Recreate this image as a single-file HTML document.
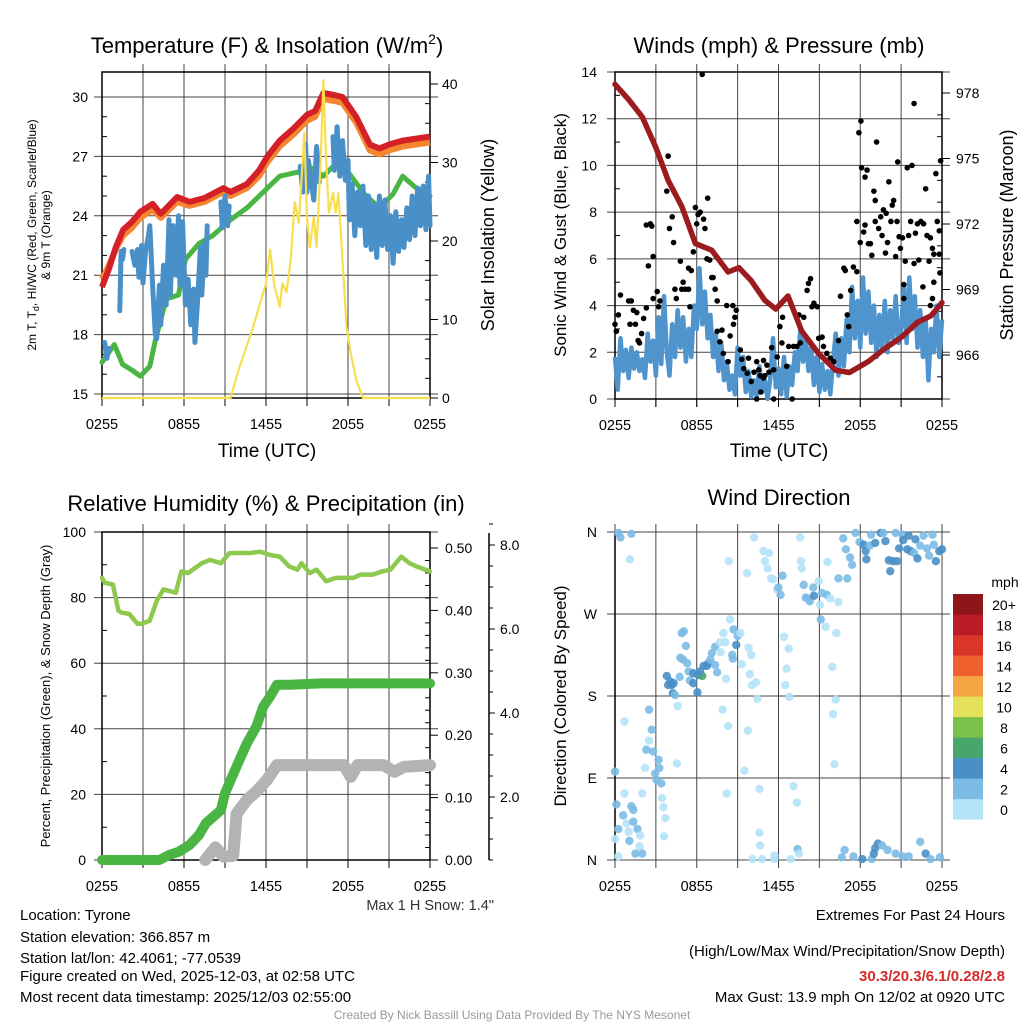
<!DOCTYPE html>
<html><head><meta charset="utf-8"><style>
html,body{margin:0;padding:0;background:#fff;}
svg{display:block;font-family:"Liberation Sans",sans-serif;}
</style></head><body>
<svg id="chart" width="1024" height="1024" viewBox="0 0 1024 1024" xmlns="http://www.w3.org/2000/svg">
<rect width="1024" height="1024" fill="#fff"/>
<g id="p1"></g>
<g id="p2"></g>
<g id="p3"></g>
<g id="p4"></g>
<g id="txt" font-size="15" fill="#000">
<text x="267" y="53" font-size="22" text-anchor="middle">Temperature (F) &amp; Insolation (W/m<tspan dy="-9" font-size="14">2</tspan><tspan dy="9">)</tspan></text>
<text x="779" y="53" font-size="22" text-anchor="middle">Winds (mph) &amp; Pressure (mb)</text>
<text x="266" y="511" font-size="22" text-anchor="middle">Relative Humidity (%) &amp; Precipitation (in)</text>
<text x="779" y="505" font-size="22" text-anchor="middle">Wind Direction</text>
<text x="267" y="457" font-size="19" text-anchor="middle">Time (UTC)</text>
<text x="779" y="457" font-size="19" text-anchor="middle">Time (UTC)</text>
<text transform="translate(44,235) rotate(-90)" font-size="12" text-anchor="middle"><tspan x="0" dy="-8">2m T, T<tspan font-size="9" dy="3">d</tspan><tspan dy="-3">, HI/WC (Red, Green, Scarlet/Blue)</tspan></tspan><tspan x="0" dy="14">&amp; 9m T (Orange)</tspan></text>
<text transform="translate(494,235) rotate(-90)" font-size="18" text-anchor="middle">Solar Insolation (Yellow)</text>
<text transform="translate(566,235) rotate(-90)" font-size="17" text-anchor="middle">Sonic Wind &amp; Gust (Blue, Black)</text>
<text transform="translate(1013,235) rotate(-90)" font-size="18" text-anchor="middle">Station Pressure (Maroon)</text>
<text transform="translate(50,696) rotate(-90)" font-size="13" text-anchor="middle">Percent, Precipitation (Green), &amp; Snow Depth (Gray)</text>
<text transform="translate(566,696) rotate(-90)" font-size="17" text-anchor="middle">Direction (Colored By Speed)</text>
<text x="494" y="910" font-size="14.5" fill="#333" text-anchor="end">Max 1 H Snow: 1.4"</text>
<g>
<text x="20" y="920">Location: Tyrone</text>
<text x="20" y="942">Station elevation: 366.857 m</text>
<text x="20" y="963">Station lat/lon: 42.4061; -77.0539</text>
<text x="20" y="981">Figure created on Wed, 2025-12-03, at 02:58 UTC</text>
<text x="20" y="1002">Most recent data timestamp: 2025/12/03 02:55:00</text>
</g>
<g text-anchor="end">
<text x="1005" y="920">Extremes For Past 24 Hours</text>
<text x="1005" y="956">(High/Low/Max Wind/Precipitation/Snow Depth)</text>
<text x="1005" y="981" fill="#d42a2a" font-weight="bold">30.3/20.3/6.1/0.28/2.8</text>
<text x="1005" y="1002">Max Gust: 13.9 mph On 12/02 at 0920 UTC</text>
</g>
<text x="512" y="1019" font-size="12" fill="#999" text-anchor="middle">Created By Nick Bassill Using Data Provided By The NYS Mesonet</text>
</g>
</svg>
<script>
// ---------- data ----------
const timeTicks = ["0255","0855","1455","2055","0255"];
// Temperature panel
const redT = [0,0.5,1,1.55,2.2,2.8,3.7,4.3,5.5,6.4,7.5,8.9,9.4,10.6,11.5,12.1,13,14,15,15.6,16.2,17,17.6,18.6,19.6,20.3,21,22,23,24];
const redV = [20.4,21.3,22.4,23.3,23.7,24.2,24.6,24.1,24.95,24.7,24.9,25.4,25.2,25.6,26.3,27,27.8,28.4,29.1,29.3,30.2,30.1,30,29,27.6,27.4,27.6,27.8,27.9,28.0];
const orangeV = [20.8,21.5,22.3,23.0,23.4,23.9,24.3,23.9,24.7,24.5,24.7,25.2,25.0,25.4,26.0,26.7,27.5,28.1,28.8,29.0,29.9,29.8,29.7,28.7,27.3,27.1,27.3,27.5,27.6,27.7];
const greenT = [0,0.9,1.5,2.2,2.8,3.5,3.9,4.7,5.6,6.1,7.1,8.1,9.4,10.6,12.1,13,14.3,15.4,16.2,17.2,17.9,19.2,20.3,21.3,22,23,24];
const greenV = [16.6,17.5,16.5,16.2,15.9,16.4,17.7,19.8,20,21.8,22.6,23,23.8,24.4,25.4,26,26.2,26.4,26,26.7,26.3,25.1,24.4,25.1,26,25.4,25];
const blueT = [0.2,0.35,0.5,0.6,1.3,1.4,1.5,1.6,1.7,2.2,2.4,2.6,2.7,2.9,3.0,3.2,3.4,3.5,3.7,3.9,4.0,4.2,4.3,4.5,4.7,4.9,5.0,5.2,5.4,5.6,5.7,5.9,6.1,6.3,6.5,6.7,6.8,7.0,7.2,7.3,7.5,7.6,7.7,7.8,8.7,8.8,9.0,9.2,9.3,9.4,14.5,14.7,14.9,15.0,15.1,15.3,15.5,15.7,15.9,16.0,16.9,17.0,17.2,17.4,17.6,17.8,18.0,18.1,18.3,18.5,18.7,18.9,19.1,19.3,19.5,19.7,19.9,20.1,20.3,20.5,20.7,20.9,21.1,21.3,21.5,21.7,21.9,22.1,22.3,22.5,22.7,22.9,23.1,23.3,23.5,23.7,23.9,24];
const blueV = [17.6,16.8,17.3,null,19.2,22.2,21.8,22.3,null,22.2,21.5,22.3,20.9,22.5,20.6,22.3,23.0,23.5,20.5,18.0,17.8,20.5,18.5,21.5,19.5,23.8,20.0,23.5,21.0,24.0,20.5,23.7,19.5,20.8,18.5,20.3,17.6,19.8,22.4,20.0,22.6,21.0,23.5,null,24.7,23.4,25.0,23.5,24.5,null,26.5,25.2,27.6,25.2,26.8,25.8,24.8,27.5,25.7,null,28.0,26.3,28.5,26.0,27.8,25.8,26.8,23.8,25.6,23.0,25.2,23.5,25.5,22.5,25.0,22.3,24.6,21.9,25.0,22.5,24.8,22.3,24.0,21.6,24.2,22.2,23.8,22.4,24.4,22.8,25.0,23.0,25.4,23.5,25.5,23.3,26.0,23.5];
const solarT = [0,9.4,10,11,12,12.3,12.6,13,13.2,13.5,13.8,14.1,14.4,14.6,14.8,15.0,15.2,15.5,15.7,16.0,16.2,16.4,16.6,16.9,17.1,17.3,17.6,17.9,18.2,18.6,19.1,24];
const solarV = [0,0,3.6,8.7,14.6,18.9,14.4,11.6,14.6,13.5,17.5,25,22.3,27.8,33.8,23,19.2,23,19.2,30.3,40.5,30.3,23.6,26.1,23.6,26.1,17.5,9.0,5.7,2.3,0,0];
const tempTicks = [15,18,21,24,27,30];
const solarTicks = [0,10,20,30,40];
// Winds panel
const pressT = [0,1,2,3,3.9,4.9,5.9,7.1,8.3,9.1,10,11,11.8,12.7,13.7,14.9,16.2,17.2,18.6,19.8,21,22.2,23.2,24];
const pressV = [978.4,977.7,976.9,975.5,974,972.8,971.1,970.8,969.8,970,969.4,968.5,968.1,968.7,967.1,966.1,965.3,965.2,965.7,966.3,966.8,967.5,967.8,968.4];
const sonicV = [1.8,0.4,2.6,1.2,2.1,0.9,2.2,1.3,2.0,1.2,1.7,0.9,2.8,1.6,2.5,1.0,3.5,1.5,4.4,2.0,1.0,3.2,1.8,3.8,2.2,3.5,1.6,3.0,1.8,4.0,3.0,5.6,3.2,4.6,2.6,3.6,1.8,2.8,1.2,2.4,0.8,1.6,0.4,1.0,0.2,2.2,1.0,1.8,0.3,1.2,0.1,0.8,0.1,1.4,0.3,0.8,0.0,0.9,2.6,0.5,1.3,0.2,1.8,0.1,1.4,0.6,2.0,1.2,3.0,1.6,2.6,1.2,2.2,0.6,1.8,0.3,1.5,0.4,1.2,0.2,1.6,2.8,1.0,2.6,1.4,3.4,2.0,4.8,2.6,4.2,2.2,5.2,2.8,4.6,2.4,4.0,1.8,3.6,2.2,4.2,2.0,3.8,2.6,4.4,2.4,3.0,4.8,2.4,5.2,3.0,4.4,2.2,3.8,1.8,3.4,0.8,3.0,2.0,4.0,1.8,3.4];
const gustT = [0,0.1,0.25,0.4,1.0,1.2,1.1,1.35,1.5,1.6,1.7,1.95,2.1,1.8,2.3,2.3,2.6,2.7,2.45,2.8,2.8,3.1,3.2,3.3,3.8,3.9,4.0,4.2,4.3,4.4,4.5,4.8,4.9,5.0,5.15,5.4,5.5,5.4,5.6,5.75,5.9,6.0,6.1,6.25,6.4,6.5,6.6,6.75,6.8,6.95,7.1,7.2,7.35,7.5,7.5,7.7,7.85,7.95,8.2,8.3,8.45,8.65,8.7,8.8,8.9,9.2,9.3,9.45,9.7,9.8,10.0,10.2,10.4,10.55,10.65,10.9,11.0,11.15,11.3,11.5,11.65,11.9,12.1,12.3,12.25,12.6,12.75,13.1,13.35,13.6,13.5,13.85,14.1,14.2,14.35,14.45,14.6,14.85,14.95,15.2,15.3,15.55,15.8,16.05,16.4,16.55,16.8,16.9,17.05,17.15,17.3,17.5,17.75,17.75,17.9,18.05,18.0,18.1,18.25,18.35,18.5,18.35,18.6,18.75,18.85,19.0,19.1,19.1,19.2,19.35,19.5,19.6,19.7,19.85,19.9,20.0,20.1,20.25,20.35,20.45,20.6,20.7,20.75,20.85,20.95,21.1,21.2,21.2,21.3,21.45,21.55,21.7,21.8,21.95,22.05,21.95,22.2,22.3,22.45,22.6,22.65,22.8,22.9,23.05,23.15,23.3,23.4,23.55,23.4,23.65,23.8,23.8,23.85,23.9,23.15,23.3,10.4,11.65,13.0,10.7,10.9];
const gustV = [3.2,2.9,3.6,4.45,4.2,4.2,3.2,3.8,3.2,3.7,2.5,2.8,3.45,2.4,3.9,7.45,7.5,7.4,5.7,6.1,4.3,4.6,3.95,4.2,8.9,10.4,7.3,7.8,6.7,4.7,4.3,5.9,4.7,5.0,4.7,4.7,3.95,5.6,5.5,6.3,8.2,7.5,7.9,8.0,13.9,7.7,7.3,6.0,8.6,5.95,5.2,5.2,4.7,4.2,2.9,2.45,2.95,1.95,4.0,1.6,2.7,4.0,3.2,3.5,3.8,2.1,1.7,1.3,1.1,1.75,0.75,1.15,1.6,1.25,1.0,1.65,1.0,1.45,1.15,2.2,1.25,1.8,3.1,3.5,2.4,1.4,2.25,2.25,2.25,2.4,3.6,3.5,4.65,4.95,5.15,3.95,4.1,3.95,2.6,2.65,2.25,1.95,1.75,1.6,2.5,4.4,5.6,5.5,3.6,3.1,4.65,5.65,5.45,7.6,11.4,11.9,6.7,9.9,7.15,9.5,9.8,7.45,6.65,6.65,6.15,8.9,7.6,8.5,11.0,7.3,7.8,7.0,8.1,6.25,7.95,6.7,9.3,7.6,8.3,8.5,6.1,7.6,10.15,6.95,6.45,6.9,4.9,4.3,5.9,9.9,7.0,7.6,10.0,12.65,7.1,5.8,7.5,5.95,7.6,4.8,7.5,9.0,7.0,5.9,6.9,6.45,5.0,9.65,6.2,7.6,7.2,6.2,5.4,10.2,4.0,4.3,0.0,0.0,0.0,0.3,0.9];
const windTicks = [0,2,4,6,8,10,12,14];
const pressTicks = [966,969,972,975,978];
// Humidity panel
const rhT = [0,0.2,0.8,1.2,1.4,2.0,2.6,2.9,3.5,4.0,4.5,5.4,5.8,6.3,7.3,7.9,8.7,9.3,9.8,10.8,11.6,12.3,13.0,13.7,14.3,14.6,15.2,15.7,16.4,17.1,18.4,18.9,19.8,20.5,21.1,21.9,22.5,23,24];
const rhV = [86,84.5,84,76,75.5,75,72,72,73,79,82.5,81.5,88,87.5,90.5,91.5,90.5,93.5,93.6,93.6,94,93,92.5,89.5,88.5,90.5,87.5,88.5,85,86,86,87,87,88,88.5,92.5,90.5,89.5,88];
const precipT = [0,4.2,4.9,5.6,6.4,7.1,7.6,8.7,9.0,9.85,10.6,11.3,11.8,12.3,12.8,13.8,16.0,24];
const precipV = [0,0,0.008,0.013,0.024,0.04,0.059,0.08,0.107,0.15,0.187,0.214,0.246,0.262,0.281,0.281,0.283,0.283];
const snowT = [7.55,8.3,8.9,9.6,9.85,10.6,11.3,12.05,12.8,17.7,18.2,18.7,20.6,21.4,22.1,24];
const snowV = [0.5,0.8,0.58,0.6,1.6,1.93,2.13,2.4,2.76,2.76,2.48,2.76,2.76,2.6,2.72,2.76];
const rhTicks = [0,20,40,60,80,100];
const precipTicks = ["0.00","0.10","0.20","0.30","0.40","0.50"];
const snowTicks = ["2.0","4.0","6.0","8.0"];
// Direction panel
const dirT = [0.25,0.4,1.2,1.1,0,0.7,0.1,0.6,1.2,1.35,0.7,2.0,0.25,0.85,1.0,1.35,1.65,1.85,0,1.05,1.8,1.5,2.0,0.25,2.5,2.7,2.5,2.3,2.8,2.2,2.95,3.2,3.25,3.05,3.4,3.45,3.55,3.7,3.6,4.55,4.6,
3.8,4.05,4.15,3.9,4.3,4.25,4.4,4.75,4.8,5.0,5.2,4.9,5.05,5.3,5.4,5.5,5.75,5.75,6.05,6.1,6.4,6.25,6.5,6.75,6.85,7.0,7.35,7.1,7.35,7.5,7.75,7.7,8.1,7.95,8.15,8.45,8.6,8.65,8.7,8.9,9.0,9.2,9.3,9.8,10.0,9.9,10.05,10.35,10.45,7.9,8.3,9.75,8.2,9.5,
8.35,10.2,9.7,10.9,11.3,11.0,11.2,11.45,11.6,11.9,12.0,12.15,12.3,13.6,13.65,13.7,13.85,14.0,14.15,14.3,14.55,14.6,14.95,15.05,15.2,15.55,15.8,15.6,16.4,16.4,16.75,17.05,17.25,17.4,16.95,12.4,12.75,12.6,12.5,12.8,15.1,15.45,16.25,15.95,16.2,16.0,16.1,
17.65,17.95,18.25,18.4,18.45,18.7,18.8,19.1,19.5,19.7,19.85,20.1,20.2,20.4,20.6,20.7,20.85,21.1,21.15,21.45,21.55,21.7,21.95,22.05,22.2,22.4,22.65,22.9,23.05,23.3,23.4,23.55,23.8,24,
10.1,10.8,10.65,10.6,10.6,11.7,11.7,12.9,13.1,13.35,13.4,13.5,16.65,16.85,17.5,18.15,18.85,19.0,19.1,19.3,19.6,20.0,20.6,21.1,21.55,22.4,22.8,23.15,23.85];
const dirV = [359,354,358,330,97,152,61,49,59,55,73,73,34,40,31,42,34,27,23,21,15,7,7,4,165,143,131,121,119,101,95,110,101,88,84,68,58,46,26,106,169,
202,196,192,192,194,183,181,201,222,220,235,249,251,216,207,197,205,194,184,203,202,207,213,213,216,220,214,227,234,206,228,239,239,249,199,264,225,221,253,236,246,249,215,233,225,204,192,195,177,165,147,142,73,98,
328,354,315,339,337,328,320,309,308,297,299,291,312,354,328,320,302,288,287,284,299,290,306,280,293,291,287,327,283,309,353,309,332,324,341,245,232,210,192,179,264,256,249,212,176,160,105,
359,349,346,339,330,345,357,348,359,359,350,329,317,328,359,328,342,357,351,341,356,339,337,352,331,345,356,342,334,357,346,328,339,341,
1,1,16,30,78,5,1,1,81,63,12,7,3,11,4,1,1,7,13,18,16,11,7,4,4,20,7,1,3];
const dirSpeed = [3,3,3,1,3,1,3,3,3,3,1,1,3,1,1,3,3,1,1,3,1,3,3,1,3,3,1,3,3,1,3,3,3,3,3,1,1,1,1,1,1,
5,5,5,5,5,5,3,3,3,3,3,3,3,3,3,3,5,5,5,5,7,5,5,5,5,3,3,3,3,3,1,1,1,1,1,1,3,3,3,5,3,1,1,1,1,1,1,1,1,1,1,1,1,1,
1,1,1,1,1,1,1,1,1,1,3,3,3,1,1,1,3,3,3,3,3,5,1,1,3,3,1,1,1,3,3,3,3,3,3,1,1,1,1,1,3,1,1,1,1,1,1,
3,3,5,5,5,3,3,5,5,3,5,5,5,5,3,5,5,3,5,5,5,5,3,5,5,3,3,3,3,3,3,5,5,5,
1,1,1,1,1,1,1,1,1,1,3,1,3,3,3,5,3,5,5,5,3,3,3,3,3,3,5,3,3];
const dirTickLabels = ["N","E","S","W","N"];
const dirTickValues = [0,90,180,270,360];
const speedBins = ["0","2","4","6","8","10","12","14","16","18","20+"];
const speedColors = ["#b4e2f7","#7cbbe4","#4a8fc6","#48a56c","#7bc04a","#e4e15b","#f5a544","#ee612f","#d93529","#b91c24","#8e1518"];

// ---------- helpers ----------
const NS="http://www.w3.org/2000/svg";
function mk(tag, parent, attrs){const e=document.createElementNS(NS,tag);for(const k in attrs)e.setAttribute(k,attrs[k]);parent.appendChild(e);return e;}
function lin(d0,d1,r0,r1){return v=>r0+(v-d0)*(r1-r0)/(d1-d0);}
function pathFrom(ts,vs,xf,yf){let d="",pen=false;for(let i=0;i<ts.length;i++){if(vs[i]===null){pen=false;continue;}d+=(pen?"L":"M")+xf(ts[i]).toFixed(1)+","+yf(vs[i]).toFixed(1);pen=true;}return d;}
function grid(g,L,R,T,B,xs,ys){
  const gg=mk("g",g,{});
  
  
  xs.forEach(x=>{mk("line",gg,{x1:x,x2:x,y1:T-8,y2:B+8,stroke:"#444","stroke-width":1});});
  ys.forEach(y=>{mk("line",gg,{x1:L-8,x2:R+8,y1:y,y2:y,stroke:"#444","stroke-width":1});});
  mk("rect",gg,{x:L,y:T,width:R-L,height:B-T,fill:"none",stroke:"#000","stroke-width":1.5});
}
function xLabels(g,L,R,B){
  const xf=lin(0,24,L,R);
  timeTicks.forEach((s,i)=>{
    const x=xf(i*6);
    const t=mk("text",g,{x:x,y:B+31,"font-size":14.5,"text-anchor":"middle"});
    
    
    t.textContent=s;
  });
}
function vgridX(L,R){const xf=lin(0,24,L,R);const a=[];for(let h=3;h<24;h+=3)a.push(xf(h));return a;}

// ---------- panel 1 ----------
(function(){
  const g=document.getElementById("p1");
  const L=102,R=430,T=72,B=398;
  const x=lin(0,24,L,R), y=lin(15,30,394,97), ys=lin(0,40,398,84);
  grid(g,L,R,T,B,vgridX(L,R),tempTicks.map(y));
  for(let v=16;v<31;v++){if(v%3)mk("line",g,{x1:L,x2:L+5,y1:y(v),y2:y(v),stroke:"#000"});}
  solarTicks.forEach(v=>{mk("line",g,{x1:R,x2:R+8,y1:ys(v),y2:ys(v),stroke:"#000"});const t=mk("text",g,{x:R+12,y:ys(v)+5,"font-size":14});t.textContent=v;});
  for(let v=2.5;v<41;v+=2.5){if(v%10)mk("line",g,{x1:R-5,x2:R,y1:ys(v),y2:ys(v),stroke:"#000"});}
  tempTicks.forEach(v=>{const t=mk("text",g,{x:L-14,y:y(v)+5,"font-size":14,"text-anchor":"end"});t.textContent=v;});
  for(let h=0;h<=24;h+=3)mk("line",g,{x1:x(h),x2:x(h),y1:B,y2:B+8,stroke:"#000"});
  xLabels(g,L,R,B);
  let p;
  p=mk("path",g,{d:pathFrom(greenT,greenV,x,y),fill:"none",stroke:"#4ab543","stroke-width":5,"stroke-linejoin":"round","stroke-linecap":"round"});
  
  p=mk("path",g,{d:pathFrom(redT,orangeV,x,y),fill:"none",stroke:"#f5862f","stroke-width":6,"stroke-linejoin":"round"});
  
  p=mk("path",g,{d:pathFrom(redT,redV,x,y),fill:"none",stroke:"#d42027","stroke-width":6,"stroke-linejoin":"round"});
  
  p=mk("path",g,{d:pathFrom(blueT,blueV,x,y),fill:"none",stroke:"#4a90c8","stroke-width":5,"stroke-linejoin":"round","stroke-linecap":"round"});
  
  p=mk("path",g,{d:pathFrom(solarT,solarV,x,ys),fill:"none",stroke:"#f8de4e","stroke-width":2.2,"stroke-linejoin":"round"});
  
})();

// ---------- panel 2 ----------
(function(){
  const g=document.getElementById("p2");
  const L=615,R=942,T=72,B=399;
  const x=lin(0,24,L,R), y=lin(0,14,399,72), yp=lin(966,978,355,93);
  grid(g,L,R,T,B,vgridX(L,R),windTicks.map(y));
  windTicks.forEach(v=>{const t=mk("text",g,{x:L-18,y:y(v)+5,"font-size":14,"text-anchor":"end"});t.textContent=v;});
  pressTicks.forEach(v=>{mk("line",g,{x1:R,x2:R+8,y1:yp(v),y2:yp(v),stroke:"#000"});const t=mk("text",g,{x:R+14,y:yp(v)+5,"font-size":14});t.textContent=v;});
  for(let v=965;v<979;v++){if((v-966)%3)mk("line",g,{x1:R-5,x2:R,y1:yp(v),y2:yp(v),stroke:"#000"});}
  for(let v=1;v<14;v+=2)mk("line",g,{x1:L,x2:L+5,y1:y(v),y2:y(v),stroke:"#000"});
  for(let h=0;h<=24;h+=3)mk("line",g,{x1:x(h),x2:x(h),y1:B,y2:B+8,stroke:"#000"});
  xLabels(g,L,R,B);
  const sT=sonicV.map((v,i)=>i*0.2);
  let p=mk("path",g,{d:pathFrom(sT,sonicV,x,y),fill:"none",stroke:"#4f94cd","stroke-width":4.5,"stroke-linejoin":"round"});
  
  const gg=mk("g",g,{});
  
  
  gustT.forEach((t,i)=>{const c=mk("circle",gg,{cx:x(t),cy:y(gustV[i]),r:2.8,fill:"#000"});
    
    });
  p=mk("path",g,{d:pathFrom(pressT,pressV,x,yp),fill:"none",stroke:"#9b1b1e","stroke-width":5.5,"stroke-linejoin":"round","stroke-linecap":"round"});
  
})();

// ---------- panel 3 ----------
(function(){
  const g=document.getElementById("p3");
  const L=102,R=430,T=532,B=860;
  const x=lin(0,24,L,R), y=lin(0,100,860,532), yp=lin(0,0.5,860,548), ysn=lin(0,8,881,545);
  grid(g,L,R,T,B,vgridX(L,R),rhTicks.map(y));
  for(let v=10;v<100;v+=20)mk("line",g,{x1:L,x2:L+5,y1:y(v),y2:y(v),stroke:"#000"});
  rhTicks.forEach(v=>{const t=mk("text",g,{x:L-16,y:y(v)+5,"font-size":14,"text-anchor":"end"});t.textContent=v;});
  precipTicks.forEach(s=>{const v=parseFloat(s);mk("line",g,{x1:R,x2:R+8,y1:yp(v),y2:yp(v),stroke:"#000"});const t=mk("text",g,{x:R+15,y:yp(v)+5,"font-size":14});t.textContent=s;});
  for(let v=0.02;v<0.52;v+=0.02){if(Math.round(v*100)%10)mk("line",g,{x1:R-5,x2:R,y1:yp(v),y2:yp(v),stroke:"#000"});}
  const sa=mk("line",g,{x1:489,x2:489,y1:533,y2:860,stroke:"#000","stroke-width":1.5});
  
  snowTicks.forEach(s=>{const v=parseFloat(s);mk("line",g,{x1:489,x2:495,y1:ysn(v),y2:ysn(v),stroke:"#000"});const t=mk("text",g,{x:500,y:ysn(v)+5,"font-size":14});t.textContent=s;});
  for(let v=0.5;v<8.6;v+=0.5){if(v%2)mk("line",g,{x1:489,x2:493,y1:ysn(v),y2:ysn(v),stroke:"#000"});}
  for(let h=0;h<=24;h+=3)mk("line",g,{x1:x(h),x2:x(h),y1:B,y2:B+8,stroke:"#000"});
  xLabels(g,L,R,B);
  let p=mk("path",g,{d:pathFrom(snowT,snowV,x,ysn),fill:"none",stroke:"#b3b3b3","stroke-width":12,"stroke-linejoin":"round","stroke-linecap":"round"});
  
  p=mk("path",g,{d:pathFrom(precipT,precipV,x,yp),fill:"none",stroke:"#4ab543","stroke-width":10,"stroke-linejoin":"round","stroke-linecap":"round"});
  
  p=mk("path",g,{d:pathFrom(rhT,rhV,x,y),fill:"none",stroke:"#8cc94e","stroke-width":4.5,"stroke-linejoin":"round","stroke-linecap":"round"});
  
})();

// ---------- panel 4 ----------
(function(){
  const g=document.getElementById("p4");
  const L=615,R=942,T=532,B=860;
  const x=lin(0,24,L,R), y=lin(0,360,860,532);
  const xs=vgridX(L,R);
  const gg=mk("g",g,{});
  
  
  xs.concat([L,R]).forEach(xx=>mk("line",gg,{x1:xx,x2:xx,y1:T-8,y2:B+8,stroke:"#444"}));
  dirTickValues.forEach(v=>mk("line",gg,{x1:L-8,x2:R+8,y1:y(v),y2:y(v),stroke:"#444"}));
  mk("line",gg,{x1:L,x2:L,y1:T,y2:B,stroke:"#000","stroke-width":1.5});
  dirTickLabels.forEach((s,i)=>{const t=mk("text",g,{x:L-18,y:y(dirTickValues[i])+5,"font-size":14,"text-anchor":"end"});t.textContent=s;});
  xLabels(g,L,R,B);
  const pg=mk("g",g,{});
  
  
  dirT.forEach((t,i)=>{const bin=Math.min(10,Math.floor(dirSpeed[i]/2));
    const c=mk("circle",pg,{cx:x(t),cy:y(dirV[i]),r:4.2,fill:speedColors[bin],"fill-opacity":0.9});
    
    });
  const cb=mk("g",g,{});
  
  
  const t0=mk("text",cb,{x:1005,y:587,"font-size":14,"text-anchor":"middle"});t0.textContent="mph";
  speedBins.forEach((s,i)=>{const yy=799-i*20.5;
    mk("rect",cb,{x:953,y:yy,width:30,height:20.6,fill:speedColors[i]});
    const t=mk("text",cb,{x:1004,y:yy+16,"font-size":14,"text-anchor":"middle"});
    
    
    t.textContent=s;});
})();
</script>
</body></html>
